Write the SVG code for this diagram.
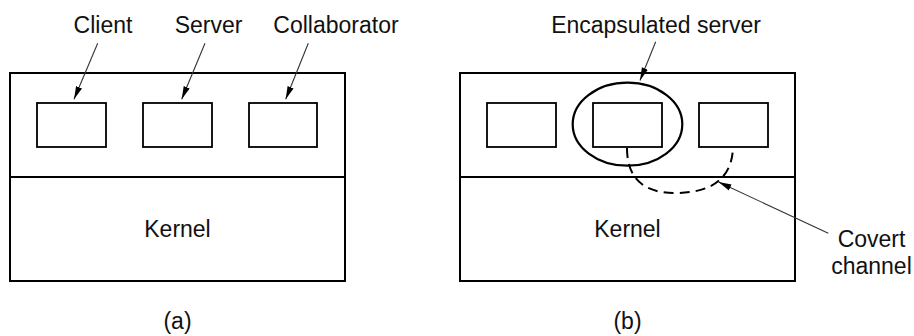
<svg xmlns="http://www.w3.org/2000/svg" width="914" height="336" viewBox="0 0 914 336">
<defs>
<style>
text{font-family:"Liberation Sans",Arial,sans-serif;font-size:23px;fill:#111;text-anchor:middle}
.box{fill:none;stroke:#000;stroke-width:2}
.inner{fill:none;stroke:#000;stroke-width:1.8}
.lead{fill:none;stroke:#333;stroke-width:1.1;marker-end:url(#ah)}
</style>
<marker id="ah" markerUnits="userSpaceOnUse" markerWidth="14" markerHeight="8" refX="13" refY="4" orient="auto">
<path d="M0,0.8 L13,4 L0,7.2 Z" fill="#000"/>
</marker>
</defs>
<rect width="914" height="336" fill="#fff"/>
<g id="panel-a">
<g id="a-user"><rect class="box" x="10" y="73" width="335" height="104"/></g>
<g id="a-kernel"><rect class="box" x="10" y="177" width="335" height="104"/><text x="177.5" y="237">Kernel</text></g>
<g id="a-client"><rect class="inner" x="37" y="103" width="69" height="44"/></g>
<g id="a-server"><rect class="inner" x="143" y="103" width="69" height="44"/></g>
<g id="a-collab"><rect class="inner" x="249" y="103" width="68" height="44"/></g>
<g id="a-labels">
<text x="103" y="33">Client</text>
<text x="208.5" y="33">Server</text>
<text x="336" y="33">Collaborator</text>
<text x="177.5" y="329">(a)</text>
</g>
</g>
<g id="panel-b">
<g id="b-user"><rect class="box" x="460" y="73" width="335" height="104"/></g>
<g id="b-kernel"><rect class="box" x="460" y="177" width="335" height="104"/><text x="627.5" y="237">Kernel</text></g>
<g id="b-client"><rect class="inner" x="487" y="103" width="69" height="44"/></g>
<g id="b-server"><rect class="inner" x="593" y="103" width="69" height="44"/></g>
<g id="b-collab"><rect class="inner" x="699" y="103" width="69" height="44"/></g>
<g id="b-encap"><ellipse cx="627.5" cy="124.2" rx="54.8" ry="41.5" fill="none" stroke="#000" stroke-width="2.2"/></g>
<g id="b-labels">
<text x="656" y="33">Encapsulated server</text>
<text x="871.5" y="247">Covert</text>
<text x="871.5" y="274">channel</text>
<text x="627.5" y="329">(b)</text>
</g>
</g>
<g id="connectors">
<line class="lead" x1="97.7" y1="43.3" x2="74" y2="99.3"/>
<line class="lead" x1="205" y1="43.3" x2="181.7" y2="99.3"/>
<line class="lead" x1="308.3" y1="43.3" x2="285.7" y2="99.3"/>
<line class="lead" x1="655.7" y1="41.7" x2="640" y2="80.5"/>
<path d="M627 148 Q627 193 675 193 Q731 193 733 148" fill="none" stroke="#000" stroke-width="2" stroke-dasharray="10,6"/>
<line class="lead" x1="828.3" y1="233.3" x2="718.5" y2="182"/>
</g>
</svg>
